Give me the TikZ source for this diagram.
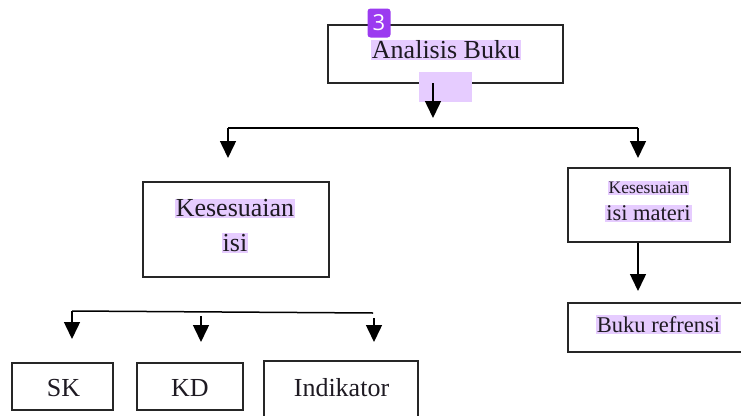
\documentclass[tikz,border=0pt]{standalone}
\usepackage{fontspec}
\setmainfont{Liberation Serif}
\setsansfont{Open Sans}
\usetikzlibrary{arrows.meta}
\definecolor{hl}{HTML}{E6CCFF}
\definecolor{badge}{HTML}{9B3BF0}
\definecolor{ink}{HTML}{1E1A22}
\tikzset{
  box/.style={draw=black!85, line width=1.3pt, fill=none, inner sep=0pt},
  hltext/.style={fill=hl, inner sep=1pt, text=ink, anchor=center},
  plaintext/.style={inner sep=0pt, text=ink},
  arr/.style={line width=1.5pt, draw=black, -{Triangle[width=16pt,length=17pt]}},
  ln/.style={line width=1.5pt, draw=black},
  big/.style={font=\fontsize{26}{28}\selectfont},
  mid/.style={font=\fontsize{22.5}{24}\selectfont},
  small/.style={font=\fontsize{17.5}{19}\selectfont},
}
\begin{document}
\begin{tikzpicture}[x=1pt,y=-1pt]
\useasboundingbox (0,0) rectangle (741,415);
% boxes
\node[box, minimum width=235pt, minimum height=58pt] (top) at (445.5,54) {};
\node[box, minimum width=186pt, minimum height=95pt] (left) at (236,229.5) {};
\node[box, minimum width=162pt, minimum height=74pt] (right) at (649,205) {};
\node[box, minimum width=174pt, minimum height=49pt] (buku) at (655,327.5) {};
\node[box, minimum width=101pt, minimum height=47pt] (sk) at (62.5,386.5) {};
\node[box, minimum width=106pt, minimum height=47pt] (kd) at (190,386.5) {};
\node[box, minimum width=154pt, minimum height=60pt] (ind) at (341,391) {};
% highlights and text
\node[hltext, big] (tA) at (446,50) {Analisis Buku};
\node[fill=hl, minimum width=53pt, minimum height=30pt, inner sep=0pt] (hlB) at (445.5,87) {};
\node[hltext, big] (tK1) at (235,208.5) {Kesesuaian};
\node[hltext, big] (tK2) at (235,243) {isi};
\node[hltext, small] (tR1) at (648.5,188) {Kesesuaian};
\node[hltext, mid] (tR2) at (648.5,213.5) {isi materi};
\node[hltext, mid] (tB) at (658.5,324.5) {Buku refrensi};
\node[plaintext, big] (tSK) at (63.5,388) {SK};
\node[plaintext, big] (tKD) at (190,388) {KD};
\node[plaintext, big] (tI) at (341.5,388) {Indikator};
% badge
\node[fill=badge, rounded corners=3pt, minimum width=23pt, minimum height=29pt, inner sep=0pt, text=white, font=\fontsize{22}{22}\sffamily] (badge) at (379,23) {3};
% connectors
\coordinate (a1) at (433,83);
\coordinate (a1e) at (433,118);
\draw[arr] (a1) -- (a1e);
\coordinate (h1) at (228,128);
\coordinate (h2) at (638,128);
\coordinate (e1) at (228,158);
\coordinate (e2) at (638,158);
\draw[ln] (h1) -- (h2);
\draw[arr] (h1) -- (e1);
\draw[arr] (h2) -- (e2);
\draw[arr] (right.south -| h2) -- (638,291);
% bottom tree
\coordinate (b1) at (72,311);
\coordinate (b2) at (373,313);
\draw[ln] (b1) -- (b2);
\draw[arr] (b1) -- (72,339);
\draw[arr] (201,316) -- (201,342);
\draw[arr] (374,318) -- (374,342);
\end{tikzpicture}
\end{document}
